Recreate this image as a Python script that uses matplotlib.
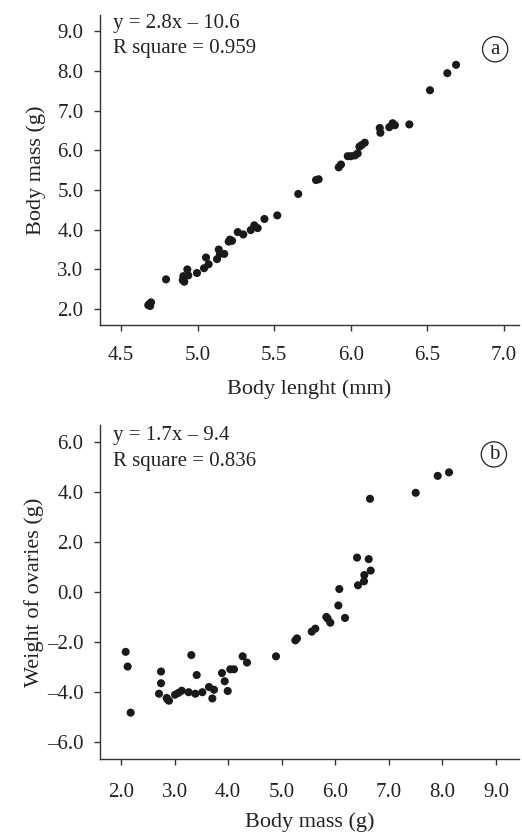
import matplotlib
matplotlib.use('Agg')
import matplotlib.pyplot as plt

# panel a: body length (mm) vs body mass (g)
length_mm = [4.678, 4.686, 4.696, 4.690, 4.794,
             4.903, 4.907, 4.913, 4.933, 4.939, 4.996,
             5.042, 5.055, 5.072, 5.127, 5.138, 5.146, 5.174,
             5.203, 5.211, 5.225, 5.262, 5.298, 5.347, 5.370, 5.392,
             5.436, 5.520, 5.657, 5.773, 5.790, 5.921, 5.936,
             5.980, 6.001, 6.027, 6.045, 6.056, 6.071, 6.091,
             6.189, 6.193, 6.251, 6.273, 6.288, 6.382,
             6.517, 6.630, 6.687]
mass_a = [2.10, 2.13, 2.17, 2.08, 2.75,
          2.73, 2.83, 2.69, 3.00, 2.85, 2.91,
          3.03, 3.30, 3.13, 3.26, 3.50, 3.39, 3.39,
          3.70, 3.75, 3.72, 3.94, 3.88, 3.99, 4.11, 4.04,
          4.27, 4.36, 4.90, 5.25, 5.27, 5.57, 5.64,
          5.85, 5.85, 5.87, 5.92, 6.09, 6.13, 6.19,
          6.56, 6.44, 6.58, 6.68, 6.63, 6.65,
          7.51, 7.94, 8.15]

# panel b: body mass (g) vs weight of ovaries (g)
mass_b = [2.087, 2.124, 2.180, 2.747, 2.747, 2.709,
          2.853, 2.896, 2.871, 3.008, 3.070, 3.133,
          3.263, 3.387, 3.518, 3.312, 3.413,
          3.643, 3.736, 3.705, 3.885, 3.935, 3.992, 4.040, 4.109,
          4.271, 4.352, 4.893, 5.254, 5.285, 5.560, 5.627,
          5.833, 5.859, 5.907, 6.057, 6.075, 6.181,
          6.406, 6.624, 6.661, 6.542, 6.536, 6.424,
          6.648, 7.501, 7.912, 8.123]
ovaries = [-2.40, -2.99, -4.84, -3.19, -3.66, -4.08,
           -4.25, -4.36, -4.32, -4.12, -4.05, -3.96,
           -4.02, -4.08, -4.02, -2.53, -3.33,
           -3.81, -3.92, -4.27, -3.25, -3.58, -3.97, -3.10, -3.10,
           -2.58, -2.83, -2.58, -1.94, -1.86, -1.59, -1.47,
           -1.00, -1.07, -1.23, -0.54, 0.12, -1.04,
           1.38, 1.32, 0.86, 0.68, 0.43, 0.27,
           3.74, 3.98, 4.66, 4.80]

xticks_a = [4.5, 5.0, 5.5, 6.0, 6.5, 7.0]
yticks_a = [2.0, 3.0, 4.0, 5.0, 6.0, 7.0, 8.0, 9.0]
xticks_b = [2.0, 3.0, 4.0, 5.0, 6.0, 7.0, 8.0, 9.0]
yticks_b = [-6.0, -4.0, -2.0, 0.0, 2.0, 4.0, 6.0]

plt.rcParams['font.family'] = ['Liberation Serif', 'DejaVu Serif']
plt.rcParams['font.size'] = 15

fig = plt.figure(figsize=(5.22, 8.33), dpi=100)
ax1 = fig.add_axes([0.1916, 0.6098, 0.8027, 0.372])
ax2 = fig.add_axes([0.1916, 0.0888, 0.8027, 0.4010])


def style(ax, xpad):
    for s in ['top', 'right']:
        ax.spines[s].set_visible(False)
    for s in ['left', 'bottom']:
        ax.spines[s].set_color('#333333')
        ax.spines[s].set_linewidth(1.0)
    ax.tick_params(direction='out', length=4, width=1.0, color='#333333',
                   labelsize=15, pad=8, labelcolor='#222222')
    ax.tick_params(axis='x', pad=xpad)


ax1.scatter(length_mm, mass_a, s=34, color='#1a1a1a', edgecolors='none')
ax1.set_xlim(4.363, 7.098)
ax1.set_ylim(1.6, 9.4)
ax1.set_xticks(xticks_a)
ax1.set_xticklabels(['%.1f' % v for v in xticks_a])
ax1.set_yticks(yticks_a)
ax1.set_yticklabels(['%.1f' % v for v in yticks_a])
style(ax1, 11)
ax1.set_xlabel('Body lenght (mm)', fontsize=16, color='#222222')
ax1.set_ylabel('Body mass (g)', fontsize=16, color='#222222')
ax1.xaxis.set_label_coords(0.5, -0.174)
ax1.yaxis.set_label_coords(-0.129, 0.5)
ax1.text(0.03, 0.974, 'y = 2.8x \u2013 10.6', transform=ax1.transAxes,
         ha='left', va='center', fontsize=15, color='#222222')
ax1.text(0.03, 0.894, 'R square = 0.959', transform=ax1.transAxes,
         ha='left', va='center', fontsize=15, color='#222222')
ax1.text(0.943, 0.89, 'a', transform=ax1.transAxes, ha='center', va='center',
         fontsize=15, color='#222222',
         bbox=dict(boxstyle='circle,pad=0.15', fc='white', ec='#222222', lw=0.9))

ax2.scatter(mass_b, ovaries, s=34, color='#1a1a1a', edgecolors='none')
ax2.set_xlim(1.608, 9.43)
ax2.set_ylim(-6.7, 6.7)
ax2.set_xticks(xticks_b)
ax2.set_xticklabels(['%.1f' % v for v in xticks_b])
ax2.set_yticks(yticks_b)
ax2.set_yticklabels([('%.1f' % v).replace('-', '\u2013') for v in yticks_b])
style(ax2, 13)
ax2.set_xlabel('Body mass (g)', fontsize=16, color='#222222')
ax2.set_ylabel('Weight of ovaries (g)', fontsize=16, color='#222222')
ax2.xaxis.set_label_coords(0.5, -0.158)
ax2.yaxis.set_label_coords(-0.134, 0.5)
ax2.text(0.03, 0.970, 'y = 1.7x \u2013 9.4', transform=ax2.transAxes,
         ha='left', va='center', fontsize=15, color='#222222')
ax2.text(0.03, 0.890, 'R square = 0.836', transform=ax2.transAxes,
         ha='left', va='center', fontsize=15, color='#222222')
ax2.text(0.940, 0.912, 'b', transform=ax2.transAxes, ha='center', va='center',
         fontsize=15, color='#222222',
         bbox=dict(boxstyle='circle,pad=0.15', fc='white', ec='#222222', lw=0.9))

fig.savefig('out.png', dpi=100)
